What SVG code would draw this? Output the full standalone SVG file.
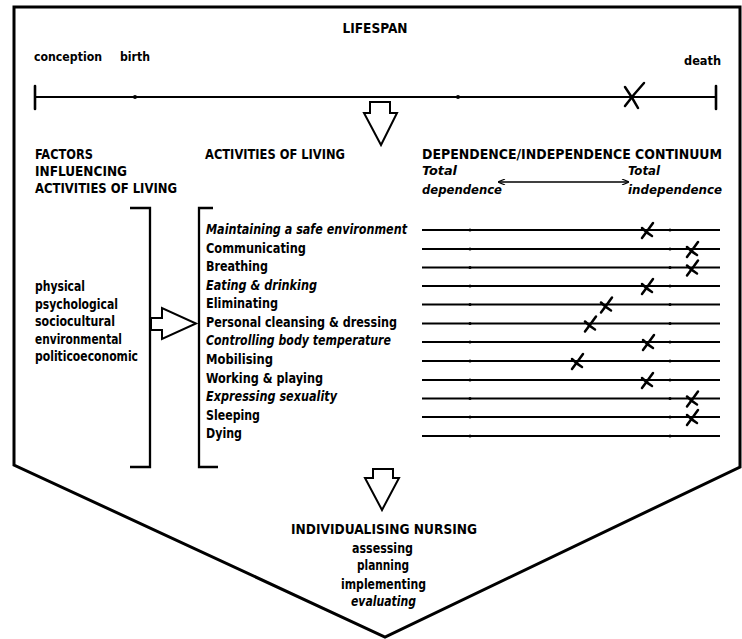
<svg xmlns="http://www.w3.org/2000/svg" width="742" height="639" viewBox="0 0 742 639">
  <style>
    text { font-family: "Liberation Sans Narrow", "DejaVu Sans Condensed", "Liberation Sans", sans-serif; font-weight: bold; fill: #000; }
    .hd { font-size: 14px; }
    .tx { font-size: 13.5px; }
    .sm { font-size: 12px; }
    .it { font-style: italic; }
    .mid { text-anchor: middle; }
    .ln { stroke: #000; fill: none; stroke-linecap: round; }
    .frame { stroke: #000; stroke-width: 3; fill: #fff; stroke-linejoin: miter; }
    .bracket { stroke: #000; stroke-width: 2.3; fill: none; }
    .hollow { stroke: #000; stroke-width: 2; fill: #fff; stroke-linejoin: miter; }
    .scale { stroke: #000; stroke-width: 1.9; fill: none; }
    .tick { fill: #000; }
    .cross { stroke: #000; stroke-width: 2.5; fill: none; stroke-linecap: round; }
  </style>
  <defs>
    <!-- hand-drawn cross used to mark a position on a scale -->
    <g id="cross">
      <path class="cross" d="M6,-7 Q1,0 -5,8"/>
      <path class="cross" d="M-5,-2 Q0,3 5,6"/>
    </g>
    <marker id="headL" markerWidth="8" markerHeight="6" refX="1" refY="3" orient="auto" markerUnits="userSpaceOnUse">
      <path d="M7,0 L0,3 L7,6" fill="none" stroke="#000" stroke-width="1.2"/>
    </marker>
    <marker id="headR" markerWidth="8" markerHeight="6" refX="7" refY="3" orient="auto" markerUnits="userSpaceOnUse">
      <path d="M1,0 L8,3 L1,6" fill="none" stroke="#000" stroke-width="1.2"/>
    </marker>
  </defs>

  <rect width="742" height="639" fill="#fff"/>

  <!-- outer frame: box with a pointed base -->
  <polygon id="frame" class="frame" points="14,7 740,7 740,467 385,637 14,465"/>

  <!-- lifespan scale -->
  <g id="lifespan">
    <text class="hd mid" x="375" y="33" textLength="65" lengthAdjust="spacingAndGlyphs">LIFESPAN</text>
    <text class="sm" x="34" y="61" textLength="68" lengthAdjust="spacingAndGlyphs">conception</text>
    <text class="sm" x="120" y="61" textLength="30" lengthAdjust="spacingAndGlyphs">birth</text>
    <text class="sm" x="684" y="65" textLength="37" lengthAdjust="spacingAndGlyphs">death</text>
    <line class="ln" x1="35" y1="97" x2="716" y2="97" stroke-width="2"/>
    <line class="ln" x1="35" y1="86" x2="35" y2="109" stroke-width="2.6"/>
    <line class="ln" x1="716" y1="86" x2="716" y2="109" stroke-width="2.6"/>
    <circle class="tick" cx="135" cy="97" r="2"/>
    <circle class="tick" cx="458" cy="97" r="2"/>
    <path class="cross" d="M644,83 Q634,94 625,106" stroke-width="2.8"/>
    <path class="cross" d="M625,87 Q632,97 638,108" stroke-width="2.8"/>
  </g>

  <!-- factors influencing activities of living -->
  <g id="factors">
    <text class="hd" x="35" y="159" textLength="58" lengthAdjust="spacingAndGlyphs">FACTORS</text>
    <text class="hd" x="35" y="176" textLength="92" lengthAdjust="spacingAndGlyphs">INFLUENCING</text>
    <text class="hd" x="35" y="193" textLength="142" lengthAdjust="spacingAndGlyphs">ACTIVITIES OF LIVING</text>
    <text class="tx" x="35" y="291" textLength="50" lengthAdjust="spacingAndGlyphs">physical</text>
    <text class="tx" x="35" y="308.5" textLength="83" lengthAdjust="spacingAndGlyphs">psychological</text>
    <text class="tx" x="35" y="326" textLength="80" lengthAdjust="spacingAndGlyphs">sociocultural</text>
    <text class="tx" x="35" y="343.5" textLength="87" lengthAdjust="spacingAndGlyphs">environmental</text>
    <text class="tx" x="35" y="361" textLength="103" lengthAdjust="spacingAndGlyphs">politicoeconomic</text>
    <path class="bracket" d="M130,208 H150 V467 H130"/>
  </g>

  <!-- activities of living -->
  <g id="activities">
    <text class="hd" x="205" y="159" textLength="140" lengthAdjust="spacingAndGlyphs">ACTIVITIES OF LIVING</text>
    <path class="bracket" d="M213,208 H199 V467 H218"/>
    <text class="tx it" x="206" y="234" textLength="201" lengthAdjust="spacingAndGlyphs">Maintaining a safe environment</text>
    <text class="tx" x="206" y="252.5" textLength="100" lengthAdjust="spacingAndGlyphs">Communicating</text>
    <text class="tx" x="206" y="271" textLength="62" lengthAdjust="spacingAndGlyphs">Breathing</text>
    <text class="tx it" x="206" y="289.5" textLength="111" lengthAdjust="spacingAndGlyphs">Eating &amp; drinking</text>
    <text class="tx" x="206" y="308" textLength="72" lengthAdjust="spacingAndGlyphs">Eliminating</text>
    <text class="tx" x="206" y="326.5" textLength="191" lengthAdjust="spacingAndGlyphs">Personal cleansing &amp; dressing</text>
    <text class="tx it" x="206" y="345" textLength="185" lengthAdjust="spacingAndGlyphs">Controlling body temperature</text>
    <text class="tx" x="206" y="364" textLength="67" lengthAdjust="spacingAndGlyphs">Mobilising</text>
    <text class="tx" x="206" y="382.5" textLength="117" lengthAdjust="spacingAndGlyphs">Working &amp; playing</text>
    <text class="tx it" x="206" y="401" textLength="131" lengthAdjust="spacingAndGlyphs">Expressing sexuality</text>
    <text class="tx" x="206" y="419.5" textLength="54" lengthAdjust="spacingAndGlyphs">Sleeping</text>
    <text class="tx" x="206" y="438" textLength="36" lengthAdjust="spacingAndGlyphs">Dying</text>
  </g>

  <!-- dependence / independence continuum -->
  <g id="continuum">
    <text class="hd" x="422" y="159" textLength="300" lengthAdjust="spacingAndGlyphs">DEPENDENCE/INDEPENDENCE CONTINUUM</text>
    <text class="sm it" x="422" y="175" textLength="35" lengthAdjust="spacingAndGlyphs">Total</text>
    <text class="sm it" x="422" y="194" textLength="80" lengthAdjust="spacingAndGlyphs">dependence</text>
    <text class="sm it" x="628" y="175" textLength="32" lengthAdjust="spacingAndGlyphs">Total</text>
    <text class="sm it" x="628" y="194" textLength="94" lengthAdjust="spacingAndGlyphs">independence</text>
    <g class="scale">
      <line x1="422" y1="230" x2="720" y2="230"/>
      <line x1="422" y1="249" x2="720" y2="249"/>
      <line x1="422" y1="267.5" x2="720" y2="267.5"/>
      <line x1="422" y1="286" x2="720" y2="286"/>
      <line x1="422" y1="304.5" x2="720" y2="304.5"/>
      <line x1="422" y1="323.5" x2="720" y2="323.5"/>
      <line x1="422" y1="342" x2="720" y2="342"/>
      <line x1="422" y1="361" x2="720" y2="361"/>
      <line x1="422" y1="380" x2="720" y2="380"/>
      <line x1="422" y1="398.5" x2="720" y2="398.5"/>
      <line x1="422" y1="417" x2="720" y2="417"/>
      <line x1="422" y1="436" x2="720" y2="436"/>
    </g>
    <g class="tick">
      <circle cx="470" cy="230" r="1.5"/><circle cx="670" cy="230" r="1.5"/>
      <circle cx="470" cy="249" r="1.5"/><circle cx="670" cy="249" r="1.5"/>
      <circle cx="470" cy="267.5" r="1.5"/><circle cx="670" cy="267.5" r="1.5"/>
      <circle cx="470" cy="286" r="1.5"/><circle cx="670" cy="286" r="1.5"/>
      <circle cx="470" cy="304.5" r="1.5"/><circle cx="670" cy="304.5" r="1.5"/>
      <circle cx="470" cy="323.5" r="1.5"/><circle cx="670" cy="323.5" r="1.5"/>
      <circle cx="470" cy="342" r="1.5"/><circle cx="670" cy="342" r="1.5"/>
      <circle cx="470" cy="361" r="1.5"/><circle cx="670" cy="361" r="1.5"/>
      <circle cx="470" cy="380" r="1.5"/><circle cx="670" cy="380" r="1.5"/>
      <circle cx="470" cy="398.5" r="1.5"/><circle cx="670" cy="398.5" r="1.5"/>
      <circle cx="470" cy="417" r="1.5"/><circle cx="670" cy="417" r="1.5"/>
      <circle cx="470" cy="436" r="1.5"/><circle cx="670" cy="436" r="1.5"/>
    </g>
    <!-- assessed positions -->
    <use href="#cross" x="647" y="230"/>
    <use href="#cross" x="692" y="249"/>
    <use href="#cross" x="692" y="267.5"/>
    <use href="#cross" x="647" y="286"/>
    <use href="#cross" x="606" y="304.5"/>
    <use href="#cross" x="590" y="323.5"/>
    <use href="#cross" x="648" y="342"/>
    <use href="#cross" x="577" y="361"/>
    <use href="#cross" x="647" y="380"/>
    <use href="#cross" x="692" y="398.5"/>
    <use href="#cross" x="692" y="417"/>
  </g>

  <!-- individualising nursing -->
  <g id="nursing">
    <text class="hd" x="291" y="534" textLength="186" lengthAdjust="spacingAndGlyphs">INDIVIDUALISING NURSING</text>
    <text class="tx" x="352" y="553" textLength="61" lengthAdjust="spacingAndGlyphs">assessing</text>
    <text class="tx" x="357" y="570" textLength="52" lengthAdjust="spacingAndGlyphs">planning</text>
    <text class="tx" x="341" y="588.5" textLength="85" lengthAdjust="spacingAndGlyphs">implementing</text>
    <text class="tx it" x="351" y="606" textLength="65" lengthAdjust="spacingAndGlyphs">evaluating</text>
  </g>

  <!-- connectors -->
  <g id="connectors">
    <polygon class="hollow" points="370,102 390,102 390,113 397,113 381,145 364,113 370,113"/>
    <polygon class="hollow" points="151,318 162,318 162,308 196,323.5 162,339 162,330 151,330"/>
    <polygon class="hollow" points="373,469 393,469 393,478 399,478 382,510 365,478 373,478"/>
    <line x1="499" y1="182" x2="628" y2="182" stroke="#000" stroke-width="1.4" marker-start="url(#headL)" marker-end="url(#headR)"/>
  </g>
</svg>
